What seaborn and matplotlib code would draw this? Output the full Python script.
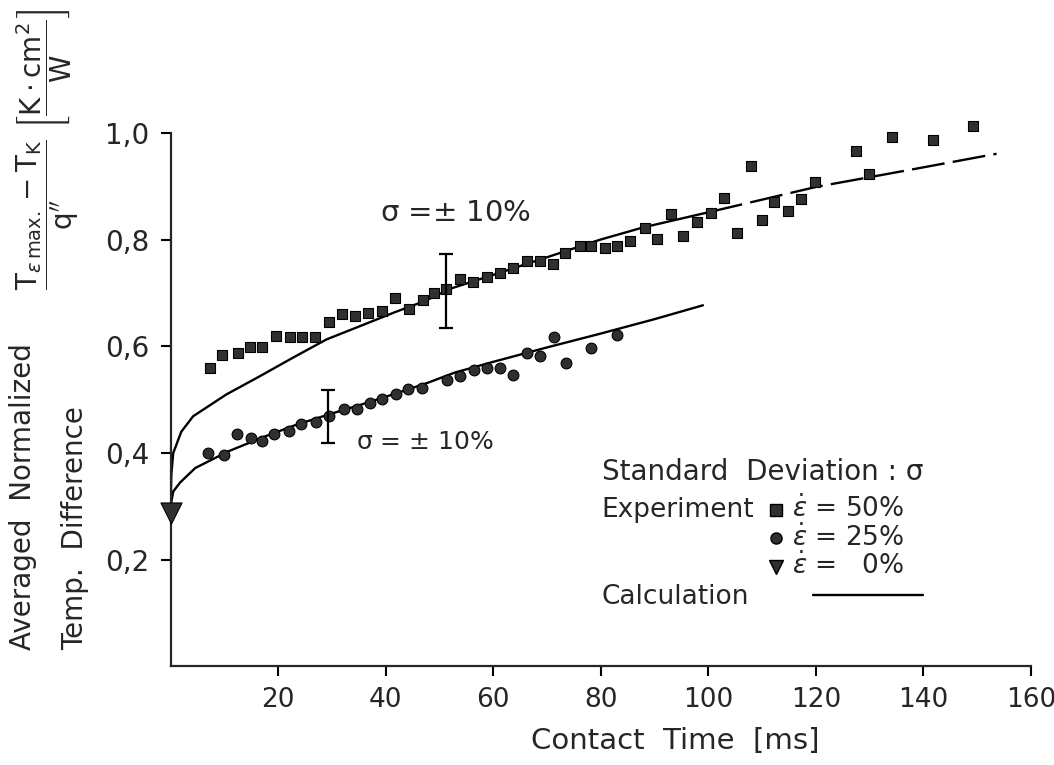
import matplotlib
matplotlib.use('Agg')
import matplotlib.pyplot as plt
import seaborn as sns

# experiment, strain rate 50 %
sq_t = [7.3, 9.5, 12.6, 14.8, 17.0, 19.7, 22.2, 24.5, 26.9, 29.5, 31.8, 34.3, 36.7,
        39.4, 41.8, 44.4, 46.9, 49.0, 51.3, 53.8, 56.3, 58.8, 61.3, 63.7, 66.3, 68.7,
        71.2, 73.3, 76.1, 78.1, 80.8, 83.0, 85.5, 88.2, 90.5, 93.0, 95.3, 97.9, 100.5,
        102.9, 105.4, 107.9, 109.9, 112.2, 114.8, 117.2, 119.8, 127.4, 129.9, 134.2,
        141.7, 149.2]
sq_v = [0.560, 0.583, 0.588, 0.598, 0.599, 0.619, 0.618, 0.618, 0.618, 0.646, 0.660,
        0.657, 0.663, 0.667, 0.690, 0.670, 0.686, 0.700, 0.707, 0.726, 0.721, 0.730,
        0.737, 0.746, 0.760, 0.760, 0.755, 0.775, 0.788, 0.788, 0.784, 0.788, 0.798,
        0.822, 0.802, 0.848, 0.807, 0.833, 0.850, 0.879, 0.812, 0.939, 0.837, 0.870,
        0.854, 0.876, 0.909, 0.967, 0.923, 0.993, 0.987, 1.013]

# experiment, strain rate 25 %
ci_t = [7.0, 10.0, 12.3, 15.0, 17.0, 19.3, 22.0, 24.3, 27.0, 29.5, 32.3, 34.6, 37.1,
        39.4, 41.9, 44.2, 46.8, 51.4, 53.8, 56.4, 58.8, 61.2, 63.7, 66.3, 68.7, 71.3,
        73.6, 78.2, 83.1]
ci_v = [0.401, 0.397, 0.435, 0.428, 0.422, 0.435, 0.441, 0.454, 0.458, 0.470, 0.483,
        0.483, 0.494, 0.502, 0.510, 0.521, 0.522, 0.537, 0.544, 0.556, 0.560, 0.560,
        0.546, 0.588, 0.582, 0.618, 0.569, 0.596, 0.621]

# experiment, strain rate 0 %
tri_t = [0.0]
tri_v = [0.288]

# calculation curves
calc50_t = [0.0, 0.15, 0.5, 2.0, 4.2, 10.4, 16.6, 22.8, 29.0, 35.0, 41.7, 47.3, 52.0,
            60.0, 70.0, 79.9, 87.9, 100.3]
calc50_v = [0.300, 0.360, 0.400, 0.440, 0.469, 0.510, 0.544, 0.579, 0.613, 0.637, 0.664,
            0.685, 0.708, 0.734, 0.767, 0.800, 0.823, 0.852]
calc50_ext_t = [100.3, 110.0, 120.1, 137.0, 153.6]
calc50_ext_v = [0.852, 0.875, 0.899, 0.930, 0.961]

calc25_t = [0.0, 0.5, 1.8, 4.6, 10.7, 17.0, 23.1, 29.3, 35.5, 41.7, 47.9, 52.9, 60.0,
            70.0, 80.0, 90.0, 99.0]
calc25_v = [0.300, 0.328, 0.345, 0.372, 0.403, 0.429, 0.452, 0.472, 0.491, 0.511, 0.532,
            0.551, 0.571, 0.598, 0.624, 0.651, 0.677]

# standard deviation bars
err_t = [51.3, 29.3]
err_v = [0.704, 0.468]
err_d = [0.069, 0.050]

xticks = [20, 40, 60, 80, 100, 120, 140, 160]
yticks = [0.2, 0.4, 0.6, 0.8, 1.0]
ytick_labels = ['0,2', '0,4', '0,6', '0,8', '1,0']

sns.set_style('ticks')
plt.rcParams['font.family'] = ['DejaVu Sans']
plt.rcParams['axes.linewidth'] = 1.6

fig = plt.figure(figsize=(10.54, 7.65), dpi=100)
ax = fig.add_axes([0.1618, 0.1288, 0.8164, 0.6974])

mk = dict(color='#303030', edgecolor='#000000', linewidth=0.8, clip_on=False, zorder=4)
sns.scatterplot(x=sq_t, y=sq_v, marker='s', s=60, ax=ax, **mk)
sns.scatterplot(x=ci_t, y=ci_v, marker='o', s=60, ax=ax, **mk)
sns.scatterplot(x=tri_t, y=tri_v, marker='v', s=230, ax=ax, **mk)

sns.lineplot(x=calc50_t, y=calc50_v, color='black', lw=1.7, ax=ax)
sns.lineplot(x=calc50_ext_t, y=calc50_ext_v, color='black', lw=1.7, ax=ax)
ax.lines[-1].set_dashes((14, 3.5))
sns.lineplot(x=calc25_t, y=calc25_v, color='black', lw=1.7, ax=ax)

ax.errorbar(err_t, err_v, yerr=err_d, fmt='none', ecolor='black', elinewidth=1.6,
            capsize=5, capthick=1.6, zorder=5)

ax.set_xlim(0, 160)
ax.set_ylim(0, 1.0)
ax.set_xticks(xticks)
ax.set_xticklabels([str(t) for t in xticks], fontsize=19)
ax.set_yticks(yticks)
ax.set_yticklabels(ytick_labels, fontsize=20)
ax.tick_params(axis='both', direction='out', length=7, width=1.5, color='black', pad=8)
sns.despine(ax=ax)

ax.set_xlabel('Contact  Time  [ms]', fontsize=21)
ax.xaxis.set_label_coords(0.586, -0.113)
ax.set_ylabel('')

# sigma annotations
ax.text(0.243, 0.85, r'σ =$\pm$ 10%', transform=ax.transAxes, fontsize=21,
        ha='left', va='center')
ax.text(0.215, 0.42, r'σ = $\pm$ 10%', transform=ax.transAxes, fontsize=18,
        ha='left', va='center')

# legend block
lx = 0.501
ax.text(lx, 0.365, 'Standard  Deviation : σ', transform=ax.transAxes, fontsize=20,
        ha='left', va='center')
ax.text(lx, 0.294, 'Experiment', transform=ax.transAxes, fontsize=19,
        ha='left', va='center')
ax.text(lx, 0.131, 'Calculation', transform=ax.transAxes, fontsize=19,
        ha='left', va='center')
for mkr, yy, sz, lab in [('s', 0.294, 8, r'$\dot{\varepsilon}$ = 50%'),
                          ('o', 0.241, 8, r'$\dot{\varepsilon}$ = 25%'),
                          ('v', 0.187, 10, r'$\dot{\varepsilon}$ =   0%')]:
    ax.plot([0.704], [yy], marker=mkr, ms=sz, color='#303030', mec='black',
            transform=ax.transAxes, clip_on=False)
    ax.text(0.722, yy, lab, transform=ax.transAxes, fontsize=19, ha='left', va='center')
ax.plot([0.747, 0.874], [0.134, 0.134], color='black', lw=1.7, transform=ax.transAxes)

# y axis label
fig.text(0.022, 0.15, 'Averaged  Normalized', rotation=90, fontsize=20,
         ha='center', va='bottom')
fig.text(0.071, 0.15, 'Temp.  Difference', rotation=90, fontsize=20,
         ha='center', va='bottom')
fig.text(0.045, 0.805,
         r'$\dfrac{\mathrm{T}_{\varepsilon\,\mathrm{max.}} - \mathrm{T}_{\mathrm{K}}}'
         r'{\mathrm{q}^{\prime\prime}}'
         r'\ \left[\dfrac{\mathrm{K}\cdot\mathrm{cm}^2}{\mathrm{W}}\right]$',
         rotation=90, fontsize=20, ha='center', va='center')

fig.savefig('out.png', dpi=100)
